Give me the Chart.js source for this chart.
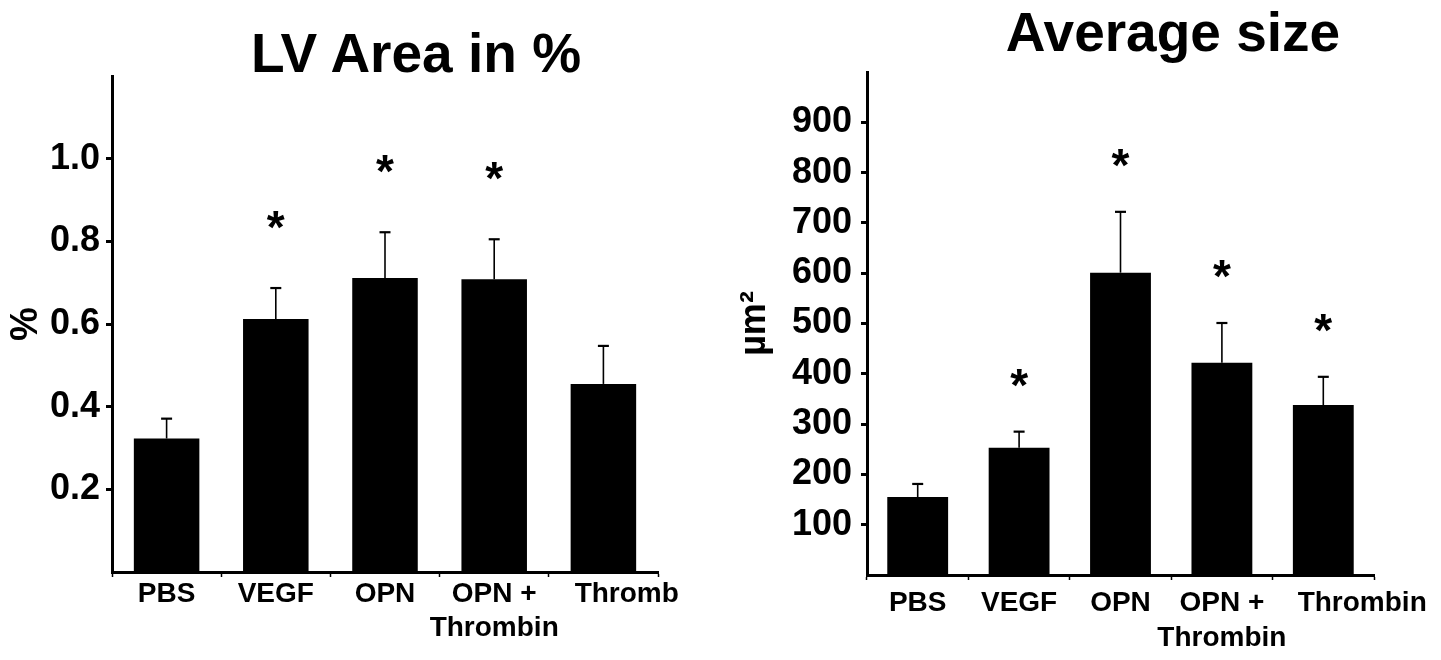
<!DOCTYPE html>
<html>
<head>
<meta charset="utf-8">
<script src="https://cdn.jsdelivr.net/npm/chart.js@4.4.1/dist/chart.umd.min.js"></script>
<style>
  body { margin: 0; background: #fff; }
  #page { position: relative; width: 1441px; height: 660px; overflow: hidden; }
  .box { position: absolute; top: 0; height: 660px; }
  .title {
    position: absolute; transform: translateX(-50%); white-space: nowrap;
    font: bold 55px "Liberation Sans", Arial, sans-serif; line-height: 55px; color: #000;
  }
</style>
</head>
<body>
<div id="page">
  <div class="box" style="left:0;width:700px"><canvas id="lvChart" width="700" height="660"></canvas></div>
  <div class="box" style="left:700px;width:741px"><canvas id="sizeChart" width="741" height="660"></canvas></div>
  <div class="title" style="left:416px;top:26px">LV Area in %</div>
  <div class="title" style="left:1173px;top:5px">Average size</div>
</div>
<script>
// LV area (fraction)
// last labels carry leading spaces: the original figure sets them off-centre to the right
const lvCategories = ['PBS', 'VEGF', 'OPN', ['OPN +', 'Thrombin'], '      Thromb'];
const lvMeans = [0.323, 0.612, 0.711, 0.708, 0.455];
const lvErrorTops = [0.371, 0.687, 0.822, 0.805, 0.547];
const lvSignificant = [false, true, true, true, false];
const lvTicks = [0.2, 0.4, 0.6, 0.8, 1.0];

// Average size (um^2)
const sizeCategories = ['PBS', 'VEGF', 'OPN', ['OPN +', 'Thrombin'], '          Thrombin'];
const sizeMeans = [155, 253, 601, 422, 338];
const sizeErrorTops = [181, 285, 722, 501, 394];
const sizeSignificant = [false, true, true, true, true];
const sizeTicks = [100, 200, 300, 400, 500, 600, 700, 800, 900];

const FONT = '"Liberation Sans", Arial, sans-serif';

// upper error bars + significance stars
const errorBarPlugin = {
    id: 'errorBars',
    afterDatasetsDraw(chart, args, opts) {
        const ctx = chart.ctx;
        const yScale = chart.scales.y;
        const meta = chart.getDatasetMeta(0);
        ctx.save();
        ctx.strokeStyle = '#000';
        ctx.fillStyle = '#000';
        meta.data.forEach((bar, i) => {
            const yTop = yScale.getPixelForValue(opts.tops[i]);
            ctx.lineWidth = 1.6;
            ctx.beginPath();
            ctx.moveTo(bar.x, bar.y);
            ctx.lineTo(bar.x, yTop);
            ctx.stroke();
            ctx.lineWidth = 2.2;
            ctx.beginPath();
            ctx.moveTo(bar.x - 5.5, yTop);
            ctx.lineTo(bar.x + 5.5, yTop);
            ctx.stroke();
            if (opts.stars[i]) {
                ctx.font = 'bold 46px ' + FONT;
                ctx.textAlign = 'center';
                ctx.textBaseline = 'alphabetic';
                ctx.fillText('*', bar.x, yTop - opts.starGap + 0.57 * 46);
            }
        });
        ctx.restore();
    }
};

function makeChart(id, cfg) {
    const ctx = document.getElementById(id).getContext('2d');
    return new Chart(ctx, {
        type: 'bar',
        data: {
            labels: cfg.labels,
            datasets: [{
                data: cfg.values,
                backgroundColor: '#000',
                borderWidth: 0,
                categoryPercentage: 1.0,
                barPercentage: 0.6
            }]
        },
        plugins: [errorBarPlugin],
        options: {
            responsive: false,
            animation: false,
            layout: { padding: cfg.padding },
            plugins: {
                legend: { display: false },
                tooltip: { enabled: false },
                errorBars: { tops: cfg.tops, stars: cfg.stars, starGap: cfg.starGap }
            },
            scales: {
                x: {
                    afterFit: (scale) => { scale.height = cfg.xHeight; },
                    border: { display: true, color: '#000', width: 3 },
                    grid: {
                        display: true, drawOnChartArea: false, offset: true,
                        tickLength: 5, tickWidth: 1.5, tickColor: '#000'
                    },
                    ticks: {
                        color: '#000', padding: cfg.xPad, maxRotation: 0, autoSkip: false,
                        font: { family: FONT, weight: 'bold', size: 28, lineHeight: cfg.xLine }
                    }
                },
                y: {
                    min: 0,
                    max: cfg.max,
                    afterFit: (scale) => { scale.width = cfg.yWidth; },
                    afterBuildTicks: (scale) => { scale.ticks = cfg.ticks.map(v => ({ value: v })); },
                    border: { display: true, color: '#000', width: 3 },
                    grid: {
                        display: true, drawOnChartArea: false,
                        tickLength: 6, tickWidth: 3, tickColor: '#000'
                    },
                    ticks: {
                        color: '#000', padding: cfg.yPad,
                        font: { family: FONT, weight: 'bold', size: 36 },
                        callback: cfg.format
                    },
                    title: {
                        display: true, text: cfg.yTitle, color: '#000',
                        padding: { top: cfg.titlePad, bottom: 0 },
                        font: { family: FONT, weight: 'bold', size: cfg.titleSize }
                    }
                }
            }
        }
    });
}

makeChart('lvChart', {
    labels: lvCategories, values: lvMeans, tops: lvErrorTops, stars: lvSignificant,
    ticks: lvTicks, max: 1.2, format: v => Number(v).toFixed(1),
    yTitle: '%', titleSize: 38, titlePad: 4, starGap: 71,
    padding: { left: 0, top: 76, right: 42, bottom: 0 },
    yWidth: 112, xHeight: 88, yPad: 6, xPad: 0, xLine: 1.21
});

makeChart('sizeChart', {
    labels: sizeCategories, values: sizeMeans, tops: sizeErrorTops, stars: sizeSignificant,
    ticks: sizeTicks, max: 1000, format: v => v,
    yTitle: 'µm²', titleSize: 36, titlePad: 33, starGap: 57,
    padding: { left: 0, top: 72, right: 67, bottom: 0 },
    yWidth: 167, xHeight: 85, yPad: 9, xPad: 6, xLine: 1.25
});
</script>
</body>
</html>
